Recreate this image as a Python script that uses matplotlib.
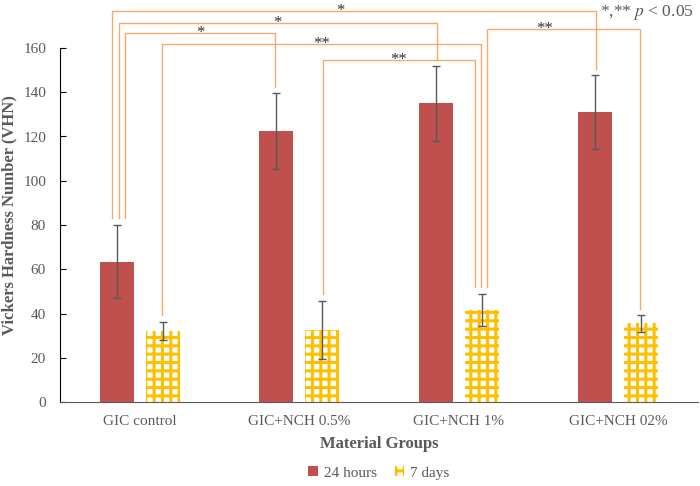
import matplotlib
matplotlib.use("Agg")
import matplotlib.pyplot as plt
import numpy as np

plt.rcParams["font.family"] = ["Liberation Serif", "DejaVu Serif"]
plt.rcParams["mathtext.fontset"] = "stix"
plt.rcParams["hatch.linewidth"] = 2.2

# --- dados ---------------------------------------------------------------
grupos = ["GIC control", "GIC+NCH 0.5%", "GIC+NCH 1%", "GIC+NCH 02%"]
vhn_24h = [63.5, 122.5, 135.0, 131.0]
err_24h = [16.5, 17.0, 17.0, 16.7]
vhn_7d = [32.0, 32.5, 41.5, 35.5]
err_7d = [4.2, 13.2, 7.3, 3.7]

# colchetes de significancia: (grupo, serie, delta) -> (grupo, serie, delta), altura, texto, x do texto
colchetes = [
    ((0, 0, -0.031), (3, 0, 0.004), 176.7, "*", 1.255),
    ((0, 0, 0.010), (2, 0, 0.007), 171.3, "*", None),
    ((0, 0, 0.050), (1, 0, -0.009), 166.8, "*", None),
    ((0, 1, -0.004), (2, 1, -0.004), 161.8, "**", None),
    ((1, 1, 0.004), (2, 1, -0.041), 154.6, "**", None),
    ((2, 1, 0.034), (3, 1, -0.007), 168.6, "**", 2.54),
]

VERMELHO = "#C0504D"
AMARELO = "#FFC000"
LARANJA = "#F5A96B"
CINZA = "#595959"
OFF = 0.143
LARG = 0.213

x = np.arange(len(grupos))

fig = plt.figure(figsize=(7, 4.86), dpi=100)
ax = fig.add_axes([60 / 700, 1 - 402 / 486, 638 / 700, 354 / 486])

ax.bar(x - OFF, vhn_24h, LARG, color=VERMELHO, label="24 hours", zorder=2)
ax.bar(x + OFF, vhn_7d, LARG, facecolor="white", edgecolor=AMARELO,
       hatch="++", linewidth=0, label="7 days", zorder=2)
ax.errorbar(x - OFF, vhn_24h, yerr=err_24h, fmt="none", ecolor=CINZA,
            elinewidth=1, capsize=3, capthick=1, zorder=3)
ax.errorbar(x + OFF, vhn_7d, yerr=err_7d, fmt="none", ecolor=CINZA,
            elinewidth=1, capsize=3, capthick=1, zorder=3)

topos = [np.array(vhn_24h) + np.array(err_24h), np.array(vhn_7d) + np.array(err_7d)]


def pos(g, s, d):
    return g + (OFF if s else -OFF) + d


for (g1, s1, d1), (g2, s2, d2), h, txt, xs in colchetes:
    xa, xb = pos(g1, s1, d1), pos(g2, s2, d2)
    ya, yb = topos[s1][g1] + 3, topos[s2][g2] + 3
    ax.plot([xa, xa, xb, xb], [ya, h, h, yb], color=LARANJA, lw=1.0,
            clip_on=False, zorder=1, solid_joinstyle="miter")
    xt = xs if xs is not None else (xa + xb) / 2
    ax.text(xt, h - 1.8, txt, ha="center", va="baseline", fontsize=12,
            color="#333333", clip_on=False)

fig.text(694 / 700, 1 - 12 / 486, r"*,** $\mathit{p}$ < 0.05", ha="right",
         va="center", fontsize=12.5, color=CINZA)

ax.set_xlim(-0.5, 3.5)
ax.set_ylim(0, 160)
ax.set_yticks(range(0, 161, 20))
ax.set_xticks(x)
ax.set_xticklabels(grupos)
ax.tick_params(axis="x", length=0, pad=9, labelsize=11, colors=CINZA)
ax.tick_params(axis="y", direction="in", length=4, pad=10, labelsize=11,
               colors=CINZA)
ax.tick_params(axis="y", color="black")
for s in ["top", "right"]:
    ax.spines[s].set_visible(False)
ax.spines["left"].set_color("black")
ax.spines["bottom"].set_color(CINZA)

ax.set_xlabel("Material Groups", fontsize=12, fontweight="bold", color=CINZA)
ax.xaxis.set_label_coords(0.5, -(436 - 402) / 354)
ax.set_ylabel("Vickers Hardness Number (VHN)", fontsize=12, fontweight="bold",
              color=CINZA)
ax.yaxis.set_label_coords(-43 / 638, (402 - 215) / 354)

ax.legend(loc="center", bbox_to_anchor=(379 / 700, 1 - 473 / 486),
          bbox_transform=fig.transFigure, ncol=2, frameon=False, fontsize=11,
          handlelength=0.6, handleheight=0.6, columnspacing=1.2,
          handletextpad=0.4, labelcolor=CINZA)

fig.savefig("out.png", dpi=100)
